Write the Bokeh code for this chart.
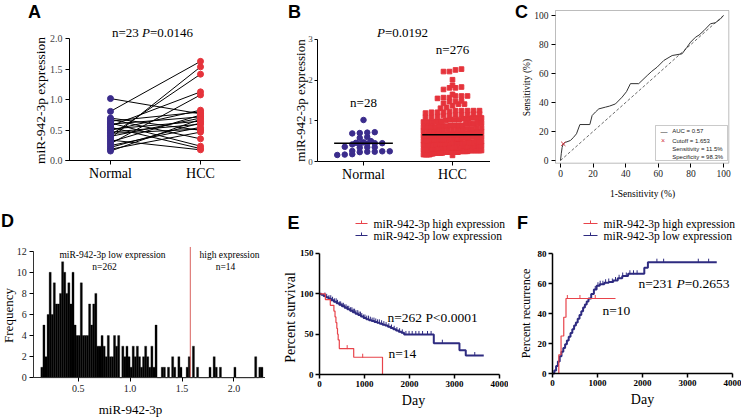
import numpy as np
from bokeh.plotting import figure
from bokeh.models import Label, BoxAnnotation, Range1d, NumeralTickFormatter
from bokeh.layouts import row, column
from bokeh.embed import file_html
from bokeh.resources import INLINE

SERIF = "Liberation Serif"
SANS = "Liberation Sans"
NAVY = "#3B2C8C"
NAVY_LINE = "#2E2B80"
RED = "#E5333B"
RED_LINE = "#E8434A"

# ------------------------------------------------------------------ data
groups = ["Normal", "HCC"]

# A: paired samples
a_normal = [1.02, 0.81, 0.70, 0.68, 0.65, 0.62, 0.60, 0.57, 0.55, 0.52, 0.50, 0.47,
            0.45, 0.42, 0.40, 0.37, 0.34, 0.31, 0.28, 0.25, 0.22, 0.19, 0.16]
a_hcc = [0.77, 1.63, 0.50, 0.36, 0.80, 0.24, 0.72, 1.13, 0.20, 0.65, 0.83, 0.60,
         0.52, 1.42, 0.70, 1.54, 0.18, 0.75, 1.08, 0.55, 0.62, 0.47, 0.68]
a_title = [("n=23 ", "normal"), ("P", "italic"), ("=0.0146", "normal")]
a_yticks = [0, 0.5, 1.0, 1.5, 2.0]

# B: unpaired samples
b_normal = [1.02, 0.72, 0.71, 0.70, 0.69, 0.60, 0.58, 0.50, 0.47, 0.46, 0.45, 0.45, 0.44, 0.43,
            0.42, 0.36, 0.35, 0.35, 0.34, 0.26, 0.25, 0.25, 0.24, 0.24, 0.23, 0.18, 0.17, 0.16]
b_means = [0.45, 0.66]
b_counts_text = ["n=28", "n=276"]
b_title = [("P", "italic"), ("=0.0192", "normal")]
b_yticks = [0, 1, 2, 3]

# D: histogram of miR-942-3p in HCC (also the HCC values of panel B)
hist_start = 0.14
hist_width = 0.02
hist_counts = [1, 5, 2, 6, 10, 6, 9, 7, 7, 8, 11, 10, 8, 9, 7, 10, 5, 4, 4, 9,
               4, 4, 4, 7, 5, 7, 8, 3, 3, 4, 3, 2, 4, 2, 2, 4, 3, 4, 0, 3,
               2, 3, 2, 1, 3, 2, 3, 2, 1, 2, 3, 2, 1, 3, 1, 5,
               0, 0, 1, 1, 0, 1, 0, 2, 1, 0, 2, 1, 0, 0, 1, 2,
               0, 3, 0, 1, 0, 0, 0, 0, 0, 1, 0, 2, 1, 0, 1, 0, 0, 0, 0, 0,
               0, 1, 0, 0, 0, 0, 0, 0, 0, 0, 0, 2, 0, 1, 1]
hist_cutoff = 1.58
d_xticks = [0.5, 1.0, 1.5, 2.0]
d_yticks = [0, 2, 4, 6, 8, 10, 12]
d_texts = ["miR-942-3p low expression", "n=262", "high expression", "n=14"]

# C: ROC curve
roc_fpr = [0, 0.5, 1.0, 1.7, 3.0, 6.1, 8.0, 9.8, 11.9, 18.0, 19.4, 21.5, 23.5, 27.6, 30.0, 33.7,
           37.8, 40.5, 42.9, 48.0, 53.2, 56.0, 59.3, 63.4, 68.5, 74.6, 77.5, 79.8, 82.8, 85.0,
           88.0, 92.0, 95.0, 98.0, 100]
roc_tpr = [0, 5.0, 9.0, 11.5, 12.5, 13.8, 16.0, 18.4, 24.8, 24.8, 31.0, 33.5, 35.6, 36.8, 37.5, 39.0,
           43.7, 47.5, 53.0, 53.0, 58.6, 61.5, 64.4, 69.0, 72.4, 73.6, 78.0, 81.6, 85.0, 86.5,
           89.6, 94.3, 95.0, 97.5, 100]
roc_diag = [0, 100]
roc_cut = (1.7, 11.5)
roc_legend = ["AUC = 0.57", "Cutoff = 1.653", "Sensitivity = 11.5%", "Specificity = 98.3%"]
c_ticks = [0, 20, 40, 60, 80, 100]

# E: overall survival
e_high_t = [0, 130, 240, 320, 345, 365, 385, 400, 415, 440, 760, 1400]
e_high_s = [100, 92.9, 85.7, 78.6, 71.4, 64.3, 57.1, 50.0, 42.9, 32.1, 21.4, 0]
e_high_end = 1400
e_high_cens = [615, 960]
e_low_t = [0, 40, 90, 140, 200, 260, 320, 380, 440, 500, 560, 620, 680, 740, 800, 860, 920, 980,
           1040, 1100, 1160, 1220, 1280, 1340, 1400, 1460, 1520, 1580, 1640, 1700, 1760, 1820,
           1880, 2540, 3110, 3250]
e_low_s = [100, 98.8, 97.2, 95.6, 93.9, 92.0, 90.1, 88.2, 86.3, 84.5, 82.6, 80.8, 79.0, 77.2, 75.4,
           73.6, 71.8, 70.0, 68.6, 67.3, 66.2, 65.1, 64.0, 62.9, 61.8, 60.6, 59.2, 57.6, 56.0, 54.4,
           53.0, 51.6, 49.6, 38.8, 30.0, 23.5]
e_low_end = 3650
e_low_cens = [120, 160, 210, 250, 290, 330, 370, 400, 440, 470, 500, 530, 560, 590, 620, 650, 690,
              720, 750, 780, 810, 850, 880, 910, 940, 980, 1010, 1050, 1090, 1130, 1170, 1210, 1250,
              1290, 1330, 1380, 1430, 1480, 1540, 1600, 1660, 1720, 1780, 1840, 1920, 1990, 2060,
              2140, 2210, 2290, 2400, 2480, 2730, 3450]
e_text = [("n=262  P<0.0001", "normal")]
e_text2 = "n=14"
e_yticks = [0, 50, 100, 150]

# F: recurrence
f_high_t = [0, 140, 190, 250, 300]
f_high_s = [0, 12.5, 25, 37.5, 50]
f_high_end = 1400
f_high_cens = [330, 610, 950]
f_low_t = [0, 40, 80, 120, 160, 200, 240, 280, 320, 360, 400, 440, 480, 520, 560, 600, 640, 680, 720,
           760, 800, 860, 920, 980, 1050, 1150, 1250, 1350, 1450, 1550, 1680, 2040, 2120]
f_low_s = [0, 2, 5, 8, 11.5, 14.5, 17, 19.5, 22, 24.5, 27, 29.5, 32, 34, 36.5, 39, 41.5, 44, 46,
           48, 50, 53, 56, 58.5, 59.5, 60.5, 61, 62, 63.5, 65, 66.5, 70.5, 74.2]
f_low_end = 3650
f_low_cens = [950, 1010, 1060, 1120, 1180, 1250, 1330, 1400, 1480, 1560, 1640, 1720, 1800, 1880,
              2320, 2470, 3240, 3470]
f_text = [("n=231 ", "normal"), ("P", "italic"), ("=0.2653", "normal")]
f_text2 = "n=10"
f_yticks = [0, 20, 40, 60, 80]

km_legend = ["miR-942-3p high expression", "miR-942-3p low expression"]
day_ticks = [0, 1000, 2000, 3000, 4000]

# ------------------------------------------------------------------ helpers
H1, H2 = 200, 217


class Geo:
    """Maps figure-local pixels (origin top-left) to data; the frame fills the figure."""

    def __init__(self, w, h, lx0, vx0, kx, ly0, vy0, ky):
        self.w, self.h = w, h
        self.lx0, self.vx0, self.kx = lx0, vx0, kx
        self.ly0, self.vy0, self.ky = ly0, vy0, ky

    def x(self, lx):
        return self.vx0 + (lx - self.lx0) / self.kx

    def y(self, ly):
        return self.vy0 + (self.ly0 - ly) / self.ky

    def dy(self, px):
        return px / self.ky

    @property
    def xr(self):
        return (self.x(0), self.x(self.w))

    @property
    def yr(self):
        return (self.y(self.h), self.y(0))


def make_fig(g):
    p = figure(width=g.w, height=g.h, x_range=Range1d(*g.xr), y_range=Range1d(*g.yr),
               output_backend="svg", toolbar_location=None,
               min_border=0, min_border_left=0, min_border_right=0,
               min_border_top=0, min_border_bottom=0)
    p.title.visible = False
    p.outline_line_color = None
    p.xgrid.visible = False
    p.ygrid.visible = False
    p.background_fill_color = "white"
    p.border_fill_color = "white"
    for ax in p.axis:
        ax.major_tick_in = 0
        ax.major_tick_out = 4
        ax.minor_tick_line_color = None
        ax.major_label_text_font = SERIF
        ax.major_label_text_color = "#222222"
        ax.axis_line_color = "black"
        ax.major_tick_line_color = "black"
        ax.major_label_standoff = 3
    return p


def place_axes(p, x_at, y_at, xticks, yticks, xbounds, ybounds):
    p.xaxis.fixed_location = x_at
    p.yaxis.fixed_location = y_at
    p.xaxis.ticker = xticks
    p.yaxis.ticker = yticks
    p.xaxis.bounds = xbounds
    p.yaxis.bounds = ybounds


def txt(p, g, lx, ly, text, size, font=SERIF, style="normal", align="center",
        baseline="middle", color="black", angle=0.0):
    p.add_layout(Label(x=g.x(lx), y=g.y(ly), text=text, text_font=font,
                       text_font_size=f"{size}px", text_font_style=style,
                       text_align=align, text_baseline=baseline, text_color=color,
                       angle=angle))


CW = {" ": 0.25, ".": 0.25, "=": 0.564, "<": 0.564, "P": 0.611, "n": 0.5, "-": 0.333}


def tw(s, size):
    return sum(CW.get(c, 0.5) for c in s) * size


def rich(p, g, lx, ly, segs, size, anchor="center"):
    total = sum(tw(s, size) for s, _ in segs)
    start = lx - total / 2 if anchor == "center" else lx
    for s, st in segs:
        txt(p, g, start, ly, s, size, style=st, align="left")
        start += tw(s, size)


def swarm(vals, center, row_h, step, half_max):
    vals = np.sort(np.asarray(vals, dtype=float))
    rows = np.round(vals / row_h).astype(int)
    xs = np.empty(len(vals))
    for r in np.unique(rows):
        idx = np.where(rows == r)[0]
        n = len(idx)
        st = step if n <= 1 else min(step, 2 * half_max / (n - 1))
        xs[idx] = center + (np.arange(n) - (n - 1) / 2) * st
    return xs, vals


def step_xy(t, s, end):
    return list(t) + [end], list(s) + [s[-1]]


def step_at(t, s, c):
    i = np.searchsorted(np.asarray(t), np.asarray(c), side="right") - 1
    return np.asarray(s)[i]


# ------------------------------------------------------------------ A  (page x 0..245)
gA = Geo(245, H1, 110, 1, 90, 160.3, 0, 61)
pA = make_fig(gA)
place_axes(pA, 0, gA.x(69), [1, 2], a_yticks, (gA.x(65), gA.x(240)), (0, 2))
pA.multi_line(xs=[[1, 2] for _ in a_normal], ys=[[n, h] for n, h in zip(a_normal, a_hcc)],
              line_color="black", line_width=1)
pA.scatter(x=np.ones(len(a_normal)), y=a_normal, size=6, color=NAVY)
pA.scatter(x=np.full(len(a_hcc), 2), y=a_hcc, size=6, color=RED)
pA.yaxis.formatter = NumeralTickFormatter(format="0.0")
pA.yaxis.major_label_text_font_size = "10px"
pA.yaxis.major_label_text_color = "#444444"
pA.xaxis.major_label_overrides = {i + 1: gname for i, gname in enumerate(groups)}
pA.xaxis.major_label_text_font_size = "14px"
pA.xaxis.major_label_text_color = "black"
pA.xaxis.major_label_standoff = 1
txt(pA, gA, 34, 11, "A", 18, font=SANS, style="bold")
rich(pA, gA, 152, 32, a_title, 13)
txt(pA, gA, 40, 100, "miR-942-3p expression", 13.5, angle=np.pi / 2)

# ------------------------------------------------------------------ B  (page x 245..490)
gB = Geo(245, H1, 118, 1, 89, 161, 0, 40.7)
pB = make_fig(gB)
place_axes(pB, 0, gB.x(72.3), [1, 2], b_yticks, (gB.x(72.3), gB.x(245)), (0, 3))
hist_left = hist_start + hist_width * np.arange(len(hist_counts))
hcc_vals = np.repeat(hist_left + hist_width / 2, hist_counts)
nx, ny = swarm(b_normal, 1, 0.1, 7.5 / 89, 30 / 89)
hx, hy = swarm(hcc_vals, 2, 0.113, 6.0 / 89, 29 / 89)
pB.scatter(x=hx, y=hy, marker="square", size=4.6, color=RED)
pB.scatter(x=nx, y=ny, size=5.5, color=NAVY)
pB.segment(x0=[1 - 0.33, 2 - 0.34], x1=[1 + 0.33, 2 + 0.34], y0=b_means, y1=b_means,
           line_color="black", line_width=1.5)
pB.yaxis.major_tick_out = 3
pB.yaxis.major_label_standoff = 2
pB.yaxis.major_label_text_font_size = "9px"
pB.yaxis.major_label_text_color = "#444444"
pB.xaxis.major_label_overrides = {i + 1: gname for i, gname in enumerate(groups)}
pB.xaxis.major_label_text_font_size = "14px"
pB.xaxis.major_label_text_color = "black"
pB.xaxis.major_label_standoff = 1
txt(pB, gB, 49, 11, "B", 18, font=SANS, style="bold")
rich(pB, gB, 157, 32, b_title, 13)
txt(pB, gB, 118, 102, b_counts_text[0], 13)
txt(pB, gB, 207, 49, b_counts_text[1], 13)
txt(pB, gB, 55, 100, "miR-942-3p expression", 13, angle=np.pi / 2)

# ------------------------------------------------------------------ C  (page x 490..741)
gC = Geo(251, H1, 70, 0, 1.63, 160, 0, 1.45)
pC = make_fig(gC)
place_axes(pC, gC.y(162.7), gC.x(65), c_ticks, c_ticks, (0, 100), (0, 100))
for ax in pC.axis:
    ax.axis_line_color = None
    ax.major_tick_out = 4
    ax.major_label_standoff = 3
    ax.major_label_text_font_size = "9.5px"
pC.add_layout(BoxAnnotation(left=gC.x(65), right=gC.x(238.3), top=gC.y(10), bottom=gC.y(162.7),
                            fill_color=None, line_color="#222222", line_width=1))
pC.line(roc_diag, roc_diag, line_color="#444444", line_width=0.8, line_dash="3 2")
pC.line(roc_fpr, roc_tpr, line_color="#333333", line_width=1)
pC.scatter(x=[roc_cut[0]], y=[roc_cut[1]], marker="x", size=6, line_color="#D0343E", line_width=1)
pC.add_layout(BoxAnnotation(left=gC.x(165), right=gC.x(237), top=gC.y(125), bottom=gC.y(160),
                            fill_color="white", fill_alpha=1, line_color="#222222", line_width=0.8))
leg_y = [130.7, 140, 148.3, 156.7]
pC.add_layout(Label(x=gC.x(170), y=gC.y(leg_y[0]), text="\u2014", text_font=SANS, text_font_size="7px",
                    text_baseline="middle", text_color="#333333"))
pC.add_layout(Label(x=gC.x(170.5), y=gC.y(leg_y[1]), text="\u00d7", text_font=SANS, text_font_size="7px",
                    text_baseline="middle", text_color="#D0343E"))
for ly, s in zip(leg_y, roc_legend):
    txt(pC, gC, 181.7, ly, s, 6, font=SANS, align="left", color="#222222")
txt(pC, gC, 31, 11, "C", 18, font=SANS, style="bold")
txt(pC, gC, 36, 87, "Sensitivity (%)", 9.5, angle=np.pi / 2)
txt(pC, gC, 152, 193, "1-Sensitivity (%)", 9.5)

# ------------------------------------------------------------------ D  (page x 0..265, y 200..417)
gD = Geo(265, H2, 25.8, 0, 103.8, 177.3, 0, 10.55)
pD = make_fig(gD)
place_axes(pD, 0, gD.x(33.3), d_xticks, d_yticks, (gD.x(33.3), gD.x(265)), (0, 12))
pD.quad(left=hist_left, right=hist_left + hist_width, bottom=0, top=hist_counts,
        fill_color="black", line_color="black", line_width=0.3)
pD.segment(x0=[hist_cutoff], x1=[hist_cutoff], y0=[0], y1=[12.4], line_color="#D9625E", line_width=1)
for ax in pD.axis:
    ax.major_tick_out = 4
    ax.major_label_standoff = 3
    ax.major_label_text_font_size = "10px"
    ax.axis_line_color = "#333333"
pD.xaxis.formatter = NumeralTickFormatter(format="0.0")
txt(pD, gD, 112, 54, d_texts[0], 9.5)
txt(pD, gD, 104, 66, d_texts[1], 9.5)
txt(pD, gD, 229, 54, d_texts[2], 9.5)
txt(pD, gD, 225, 66, d_texts[3], 9.5)
txt(pD, gD, 7, 20, "D", 18, font=SANS, style="bold")
txt(pD, gD, 8, 115, "Frequency", 13, angle=np.pi / 2)
txt(pD, gD, 130, 209, "miR-942-3p", 13)


# ------------------------------------------------------------------ E / F
def km_axes(p):
    for ax in p.axis:
        ax.axis_line_width = 1.5
        ax.major_tick_line_width = 1.5
        ax.major_tick_out = 4
        ax.major_label_standoff = 2
        ax.major_label_text_font_size = "9px"
        ax.major_label_text_font_style = "bold"
        ax.major_label_text_color = "black"


def km_legend_draw(p, g, x0, x1, xt, ys):
    for col, ly, lab in zip([RED_LINE, NAVY_LINE], ys, km_legend):
        p.line([g.x(x0), g.x(x1)], [g.y(ly)] * 2, line_color=col, line_width=1.2)
        p.segment(x0=[g.x((x0 + x1) / 2)], x1=[g.x((x0 + x1) / 2)], y0=[g.y(ly)], y1=[g.y(ly - 3)],
                  line_color=col, line_width=1)
        txt(p, g, xt, ly, lab, 11.5, align="left")


def km_curve(p, g, t, s, end, cens, color, width):
    x, y = step_xy(t, s, end)
    p.step(x, y, mode="after", line_color=color, line_width=width)
    p.scatter(x=cens, y=step_at(t, s, cens) + g.dy(1.5), marker="dash", angle=np.pi / 2,
              size=4, line_color=color, line_width=1)


# E: page x 265..508
gE = Geo(243, H2, 54, 0, 0.045, 174, 0, 0.807)
pE = make_fig(gE)
place_axes(pE, 0, 0, day_ticks, e_yticks, (0, 4000), (0, 150))
km_axes(pE)
km_curve(pE, gE, e_low_t, e_low_s, e_low_end, e_low_cens, NAVY_LINE, 2)
km_curve(pE, gE, e_high_t, e_high_s, e_high_end, e_high_cens, RED_LINE, 1.2)
km_legend_draw(pE, gE, 90, 102, 108, [23, 35])
rich(pE, gE, 122, 117, e_text, 13.5, anchor="left")
txt(pE, gE, 123, 153, e_text2, 13.5, align="left")
txt(pE, gE, 28, 22, "E", 18, font=SANS, style="bold")
txt(pE, gE, 25, 117, "Percent survival", 14, angle=np.pi / 2)
txt(pE, gE, 148, 200, "Day", 14)

# F: page x 508..741
gF = Geo(233, H2, 44, 0, 0.045, 173, 0, 1.5)
pF = make_fig(gF)
place_axes(pF, 0, 0, day_ticks, f_yticks, (0, 4000), (0, 80))
km_axes(pF)
km_curve(pF, gF, f_low_t, f_low_s, f_low_end, f_low_cens, NAVY_LINE, 2)
km_curve(pF, gF, f_high_t, f_high_s, f_high_end, f_high_cens, RED_LINE, 1.2)
km_legend_draw(pF, gF, 75, 89, 95, [23, 35])
rich(pF, gF, 130, 83, f_text, 13.5, anchor="left")
txt(pF, gF, 94, 110, f_text2, 13.5, align="left")
txt(pF, gF, 14, 22, "F", 18, font=SANS, style="bold")
txt(pF, gF, 17, 113, "Percent recurrence", 12, angle=np.pi / 2)
txt(pF, gF, 134, 199, "Day", 14)

layout = column(row(pA, pB, pC), row(pD, pE, pF))
open("out.html", "w").write(file_html(layout, INLINE, "miR-942-3p"))
